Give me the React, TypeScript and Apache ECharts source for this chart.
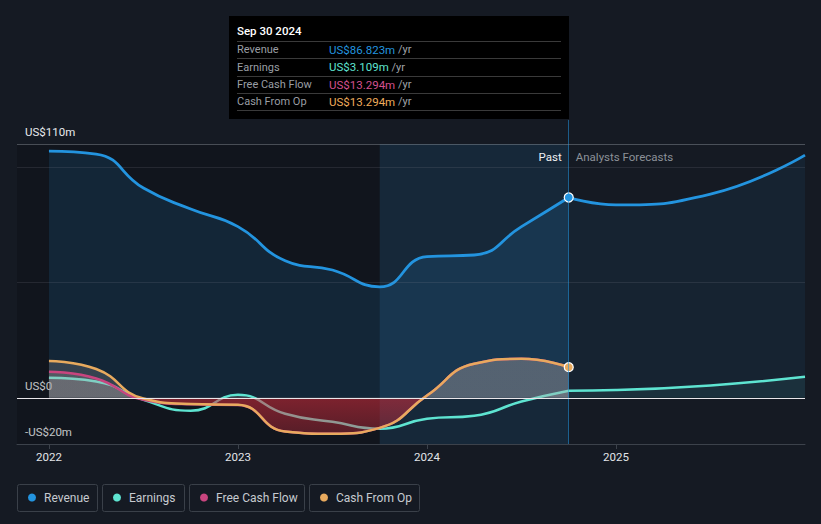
import React, { useEffect, useRef } from "react";
import * as echarts from "echarts";

// ---- data (US$ millions, x in decimal years: quarter ends) ----
const pastX = [2022.0, 2022.25, 2022.5, 2022.75, 2023.0, 2023.25, 2023.5, 2023.75, 2024.0, 2024.25, 2024.5, 2024.75];
const revenuePast = [106.9, 105.6, 90.9, 81.8, 74.2, 59.4, 55.4, 48.1, 61.2, 61.9, 74.2, 86.823];
const earningsPast = [8.7, 7.1, -0.9, -5.6, 1.3, -6.9, -10.4, -13.4, -9.1, -7.8, -1.6, 3.109];
const fcfPast = [11.3, 8.4, -0.8, -2.8, -3.1, -14.6, -15.6, -13.0, 1.0, 14.8, 16.9, 13.294];
const cfoPast = [16.0, 12.5, -0.3, -2.7, -3.0, -14.6, -15.6, -13.0, 1.0, 14.8, 16.9, 13.294];

const forecastX = [2024.75, 2025.0, 2025.5, 2026.0];
const revenueForecast = [86.823, 83.6, 88.3, 105.2];
const earningsForecast = [3.109, 3.4, 5.4, 9.1];

const yearTicks = [2022, 2023, 2024, 2025];
const yLabelValues = [-20, 0, 110];
const gridValues = [50, 100, 110];
const tooltipDate = "Sep 30 2024";

const C = {
  bg: "#151a23",
  revenue: "#2394df",
  earnings: "#5ee4d1",
  fcf: "#c8457f",
  cfo: "#e8aa5e",
};

const FONT = "Roboto, 'Noto Sans', sans-serif";
const SMOOTH = 0.5;

function pairs(xs: number[], ys: number[], markLast: boolean, color: string) {
  return xs.map((x, i) => {
    if (markLast && i === xs.length - 1) {
      return {
        value: [x, ys[i]],
        symbol: "circle",
        symbolSize: 9,
        itemStyle: { color, borderColor: "#ffffff", borderWidth: 1.2 },
      };
    }
    return { value: [x, ys[i]], symbol: "none" };
  });
}

function signFill(vals: number[], pos: string, neg: string, negEnd: string) {
  const mx = Math.max(...vals, 0);
  const mn = Math.min(...vals, 0);
  const zf = mx / (mx - mn);
  return new echarts.graphic.LinearGradient(0, 0, 0, 1, [
    { offset: 0, color: pos },
    { offset: zf, color: pos },
    { offset: zf, color: neg },
    { offset: 1, color: negEnd },
  ]);
}

export default function App() {
  const ref = useRef<HTMLDivElement>(null);

  useEffect(() => {
    if (!ref.current) return;
    const chart = echarts.init(ref.current, null, { renderer: "svg" });

    const greyPos = "rgba(185,172,170,0.30)";
    const last = pastX.length - 1;
    const fmt = (v: number) => `US$${v.toFixed(3)}m`;

    const rows = [
      { label: "Revenue", value: fmt(revenuePast[last]), color: C.revenue },
      { label: "Earnings", value: fmt(earningsPast[last]), color: C.earnings },
      { label: "Free Cash Flow", value: fmt(fcfPast[last]), color: "#d4508e" },
      { label: "Cash From Op", value: fmt(cfoPast[last]), color: "#efac5c" },
    ];

    const tooltipEls: any[] = [
      { type: "rect", shape: { x: 229, y: 16, width: 340, height: 103 }, style: { fill: "#000000" } },
      {
        type: "text",
        x: 237,
        y: 31,
        style: { text: tooltipDate, fill: "#ffffff", font: `500 11.5px ${FONT}`, verticalAlign: "middle" },
      },
    ];
    const sepY = [41, 58, 76, 93, 110];
    sepY.forEach((y) =>
      tooltipEls.push({
        type: "line",
        shape: { x1: 237, y1: y + 0.5, x2: 561, y2: y + 0.5 },
        style: { stroke: "#3a3a3a", lineWidth: 1 },
      })
    );
    const rowY = [49.5, 67, 84.5, 101.5];
    rows.forEach((r, i) => {
      tooltipEls.push({
        type: "text",
        x: 237,
        y: rowY[i],
        style: { text: r.label, fill: "#9a9ea4", font: `11px ${FONT}`, verticalAlign: "middle" },
      });
      tooltipEls.push({
        type: "text",
        x: 329,
        y: rowY[i],
        style: {
          text: `{v|${r.value}} {u|/yr}`,
          verticalAlign: "middle",
          font: `11px ${FONT}`,
          rich: {
            v: { fill: r.color, font: `11.5px ${FONT}` },
            u: { fill: "#a0a4aa", font: `11px ${FONT}` },
          },
        },
      });
    });

    const legendItems = [
      { name: "Revenue", color: C.revenue, x: 17, w: 80 },
      { name: "Earnings", color: C.earnings, x: 102, w: 82 },
      { name: "Free Cash Flow", color: C.fcf, x: 189, w: 115 },
      { name: "Cash From Op", color: C.cfo, x: 309, w: 110 },
    ];
    const legendEls: any[] = [];
    legendItems.forEach((it) => {
      legendEls.push({
        type: "rect",
        shape: { x: it.x + 0.5, y: 484.5, width: it.w, height: 27, r: 2 },
        style: { fill: "transparent", stroke: "#3a4049", lineWidth: 1 },
      });
      legendEls.push({
        type: "circle",
        shape: { cx: it.x + 15, cy: 497.5, r: 4 },
        style: { fill: it.color },
      });
      legendEls.push({
        type: "text",
        x: it.x + 27,
        y: 498,
        style: { text: it.name, fill: "#c6cad0", font: `12px ${FONT}`, verticalAlign: "middle" },
      });
    });

    const lineBase = { type: "line", smooth: SMOOTH };

    const option: any = {
      animation: false,
      backgroundColor: C.bg,
      textStyle: { fontFamily: FONT },
      grid: { left: 17, right: 16, top: 120, bottom: 80, containLabel: false },
      xAxis: {
        type: "value",
        min: 2021.831,
        max: 2026.0,
        axisLine: { show: true, onZero: false, lineStyle: { color: "#3c424b", width: 1 } },
        axisTick: { show: true, customValues: yearTicks, length: 5, lineStyle: { color: "#3c424b" } },
        axisLabel: {
          show: true,
          customValues: yearTicks,
          color: "#e2e4e8",
          fontSize: 11.5,
          margin: 7,
          formatter: (v: number) => String(Math.round(v)),
        },
        splitLine: { show: false },
      },
      yAxis: {
        type: "value",
        min: -20,
        max: 120.4,
        axisLine: { show: false },
        axisTick: { show: false },
        splitLine: { show: false },
        axisLabel: {
          show: true,
          inside: true,
          customValues: yLabelValues,
          margin: 8,
          verticalAlign: "bottom",
          padding: [0, 0, 6, 0],
          color: "#e8eaee",
          fontSize: 11.5,
          formatter: (v: number) => (v < 0 ? `-US$${Math.abs(v)}m` : v === 0 ? "US$0" : `US$${v}m`),
        },
      },
      graphic: [...tooltipEls, ...legendEls],
      series: [
        {
          type: "line",
          data: [],
          z: 1,
          silent: true,
          markArea: {
            silent: true,
            data: [
              [
                { xAxis: "min", yAxis: 110, itemStyle: { color: "rgba(0,0,0,0.17)" } },
                { xAxis: 2023.75, yAxis: -20 },
              ],
              [
                {
                  xAxis: 2023.75,
                  yAxis: 110,
                  itemStyle: { color: "rgba(35,148,223,0.12)" },
                  label: {
                    show: true,
                    formatter: "Past",
                    position: "insideTopRight",
                    distance: 7,
                    color: "#eef0f2",
                    fontSize: 11.5,
                  },
                },
                { xAxis: 2024.75, yAxis: -20 },
              ],
              [
                {
                  xAxis: 2024.75,
                  yAxis: 110,
                  itemStyle: { color: "rgba(0,0,0,0)" },
                  label: {
                    show: true,
                    formatter: "Analysts Forecasts",
                    position: "insideTopLeft",
                    distance: 7,
                    color: "#8c9198",
                    fontSize: 11.5,
                  },
                },
                { xAxis: "max", yAxis: -20 },
              ],
            ],
          },
          markLine: {
            silent: true,
            symbol: "none",
            label: { show: false },
            data: [{ xAxis: 2024.75, lineStyle: { color: "rgba(35,148,223,0.55)", width: 1, type: "solid" } }],
          },
        },
        {
          ...lineBase,
          name: "Revenue",
          z: 2,
          data: pairs(pastX, revenuePast, true, C.revenue),
          lineStyle: { color: C.revenue, width: 2.8 },
          itemStyle: { color: C.revenue },
          areaStyle: { color: "rgba(35,148,223,0.19)" },
        },
        {
          ...lineBase,
          name: "Revenue forecast",
          z: 2,
          data: pairs(forecastX, revenueForecast, false, C.revenue),
          lineStyle: { color: C.revenue, width: 2.8 },
          areaStyle: { color: "rgba(35,148,223,0.11)" },
        },
        {
          ...lineBase,
          name: "Earnings",
          z: 3,
          data: pairs(pastX, earningsPast, false, C.earnings),
          lineStyle: { color: C.earnings, width: 2.5 },
          areaStyle: { color: signFill(earningsPast, greyPos, "rgba(0,0,0,0)", "rgba(0,0,0,0)") },
        },
        {
          ...lineBase,
          name: "Free Cash Flow",
          z: 4,
          data: pairs(pastX, fcfPast, false, C.fcf),
          lineStyle: { color: C.fcf, width: 2.5 },
          areaStyle: { color: signFill(fcfPast, greyPos, "rgba(215,45,60,0.78)", "rgba(215,45,60,0.5)") },
        },
        {
          ...lineBase,
          name: "Cash From Op",
          z: 4,
          data: pairs(pastX, cfoPast, true, C.cfo),
          lineStyle: { color: C.cfo, width: 2.5 },
          areaStyle: { color: signFill(cfoPast, greyPos, "rgba(0,0,0,0)", "rgba(0,0,0,0)") },
        },
        {
          ...lineBase,
          name: "Earnings forecast",
          z: 5,
          data: pairs(forecastX, earningsForecast, false, C.earnings),
          lineStyle: { color: C.earnings, width: 2.5 },
          areaStyle: { color: "rgba(94,228,209,0.10)" },
        },
        {
          name: "Grid",
          type: "line",
          z: 6,
          data: [],
          markLine: {
            silent: true,
            symbol: "none",
            label: { show: false },
            data: [
              ...gridValues.map((v) => ({
                yAxis: v,
                lineStyle: {
                  color: v === 110 ? "rgba(140,146,156,0.45)" : "rgba(140,146,156,0.16)",
                  width: 1,
                  type: "solid",
                },
              })),
              { yAxis: 0, lineStyle: { color: "#e9e6ea", width: 1.2, type: "solid" } },
            ],
          },
        },
      ],
    };

    chart.setOption(option);
    return () => chart.dispose();
  }, []);

  return (
    <div
      ref={ref}
      style={{ position: "fixed", left: 0, top: 0, width: 821, height: 524 }}
    />
  );
}
